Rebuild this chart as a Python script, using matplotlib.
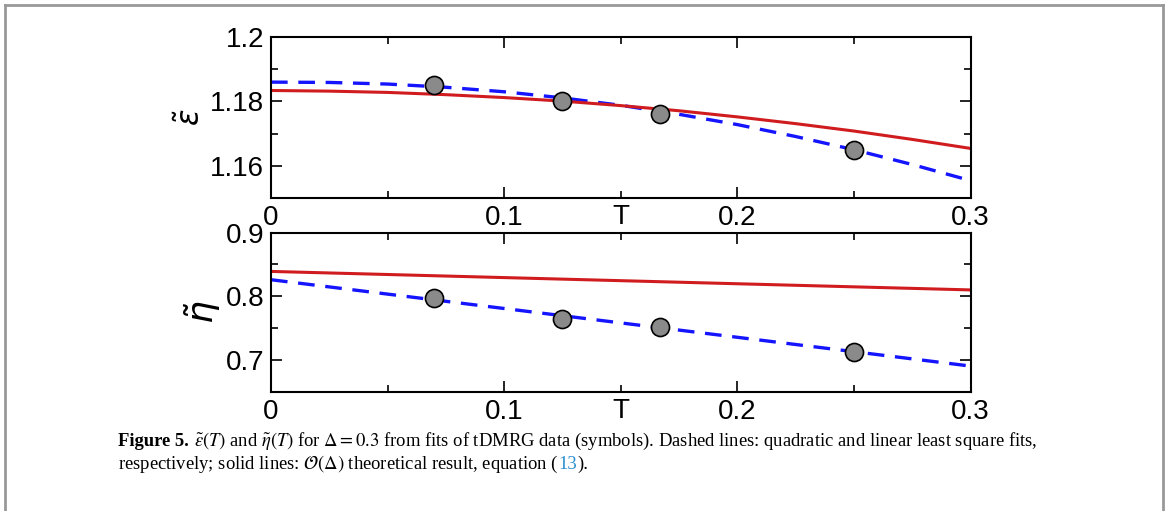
import matplotlib
matplotlib.use('Agg')
from matplotlib import pyplot as plt
from matplotlib.ticker import MultipleLocator
from matplotlib.lines import Line2D

# tDMRG data (symbols)
T_data = [0.070, 0.125, 0.167, 0.250]
eps_data = [1.1850, 1.1800, 1.1760, 1.1650]
eta_data = [0.7970, 0.7640, 0.7525, 0.7130]

# curves
T_curve = [0.0, 0.025, 0.05, 0.075, 0.1, 0.125, 0.15, 0.175, 0.2, 0.225, 0.25, 0.275, 0.3]
eps_fit = [1.1860, 1.1859, 1.1854, 1.1844, 1.1830, 1.1811, 1.1788, 1.1760,
           1.1728, 1.1691, 1.1650, 1.1604, 1.1554]
eps_theory = [1.1834, 1.1832, 1.1828, 1.1821, 1.1812, 1.1801, 1.1787, 1.1771,
              1.1752, 1.1731, 1.1708, 1.1682, 1.1654]
T_lin = [0.0, 0.3]
eta_fit = [0.8260, 0.6906]
eta_theory = [0.8390, 0.8100]

x_ticks = [0, 0.1, 0.2, 0.3]
x_labels = ['0', '0.1', '0.2', '0.3']

plt.rcParams['font.family'] = ['Liberation Sans', 'DejaVu Sans']

fig = plt.figure(figsize=(11.68, 5.11), dpi=100)
ax1 = fig.add_axes([0.232, 0.6125, 0.599, 0.315])
ax2 = fig.add_axes([0.232, 0.2329, 0.599, 0.3121])

red = '#d01c1f'
blue = '#1414ff'


def style(ax, ylim, minor):
    ax.set_xlim(0, 0.3)
    ax.set_ylim(*ylim)
    ax.set_xticks(x_ticks)
    ax.set_xticklabels(x_labels)
    ax.xaxis.set_minor_locator(MultipleLocator(0.05))
    ax.yaxis.set_minor_locator(MultipleLocator(minor))
    ax.tick_params(which='both', direction='in', top=True, right=True, width=1.2)
    ax.tick_params(which='major', length=8, labelsize=20, pad=5)
    ax.tick_params(which='minor', length=5)
    for s in ax.spines.values():
        s.set_linewidth(1.5)
    ax.text(0.15, -0.04, 'T', transform=ax.get_xaxis_transform(),
            ha='center', va='top', fontsize=20)


ax1.plot(T_curve, eps_fit, '--', color=blue, lw=2.4, dashes=(5, 3.2))
ax1.plot(T_curve, eps_theory, '-', color=red, lw=2.2)
ax1.plot(T_data, eps_data, 'o', ms=13, mfc='#8a8a8a', mec='black', mew=1.2)
ax1.set_yticks([1.16, 1.18, 1.2])
ax1.set_yticklabels(['1.16', '1.18', '1.2'])
style(ax1, (1.15, 1.2), 0.01)
ax1.set_ylabel(r'$\tilde{\epsilon}$', fontsize=22, labelpad=2)

ax2.plot(T_lin, eta_fit, '--', color=blue, lw=2.4, dashes=(5, 3.2))
ax2.plot(T_lin, eta_theory, '-', color=red, lw=2.2)
ax2.plot(T_data, eta_data, 'o', ms=13, mfc='#8a8a8a', mec='black', mew=1.2)
ax2.set_yticks([0.7, 0.8, 0.9])
ax2.set_yticklabels(['0.7', '0.8', '0.9'])
style(ax2, (0.65, 0.9), 0.05)
ax2.set_ylabel(r'$\tilde{\eta}$', fontsize=26, labelpad=2)

# page frame
for xs, ys in [([5, 5], [0, 506]), ([5, 1163], [506, 506]), ([1163, 1163], [506, 0])]:
    fig.add_artist(Line2D([x / 1168 for x in xs], [y / 511 for y in ys],
                          color='#999999', lw=2))

# caption
cap = dict(fontsize=13.4, family='Liberation Serif', math_fontfamily='stix', va='baseline')
fig.canvas.draw()
r = fig.canvas.get_renderer()
x0 = 118 / 1168
y1 = 1 - 446 / 511
y2 = 1 - 469 / 511
t = fig.text(x0, y1, 'Figure 5.', weight='bold', **cap)
w = t.get_window_extent(r).width / 1168
fig.text(x0 + w + 0.004, y1,
         r'$\tilde{\varepsilon}(T)$ and $\tilde{\eta}(T)$ for $\Delta = 0.3$ from fits of '
         r'tDMRG data (symbols). Dashed lines: quadratic and linear least square fits,', **cap)
t = fig.text(x0, y2, r'respectively; solid lines: $\mathcal{O}(\Delta)$ theoretical result, equation (', **cap)
x = x0 + t.get_window_extent(r).width / 1168
t = fig.text(x, y2, '13', color='#2a8fd0', **cap)
x += t.get_window_extent(r).width / 1168
fig.text(x, y2, ').', **cap)

plt.savefig('out.png', dpi=100)
